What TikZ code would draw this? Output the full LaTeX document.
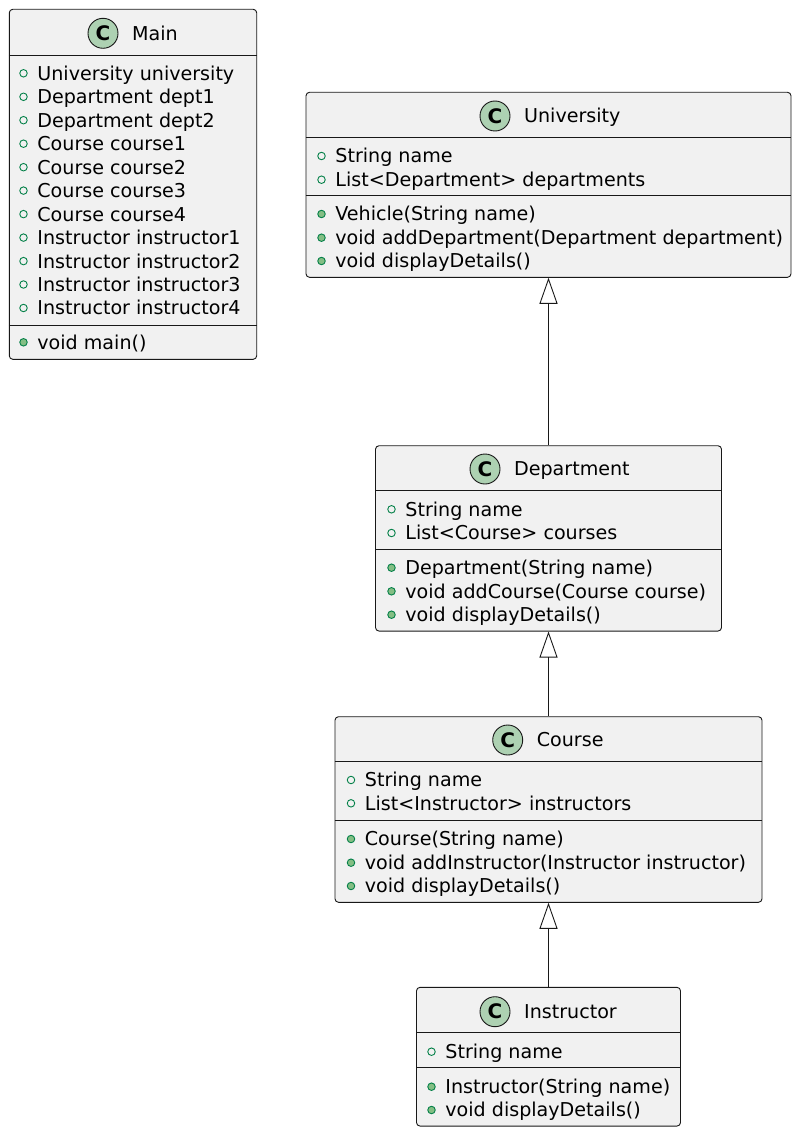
\documentclass[tikz,border=0pt]{standalone}
\usepackage{fontspec}
\setmainfont{DejaVu Sans}
\usetikzlibrary{positioning,arrows.meta}

\definecolor{boxfill}{HTML}{F1F1F1}
\definecolor{boxline}{HTML}{181818}
\definecolor{iconfill}{HTML}{ADD1B2}
\definecolor{markline}{HTML}{038048}
\definecolor{markfill}{HTML}{84BE84}

\tikzset{
  classbox/.style={draw=boxline, fill=boxfill, line width=0.9pt, rounded corners=3.5pt, inner sep=0pt},
  sepline/.style={draw=boxline, line width=0.9pt},
  classicon/.style={circle, draw=boxline, fill=iconfill, line width=0.9pt, minimum size=30pt, inner sep=0pt, font=\fontsize{20}{20}\selectfont\bfseries},
  member/.style={anchor=west, inner sep=0pt, text height=13.9pt, text depth=0pt, font=\fontsize{19.1}{22}\selectfont},
  fieldmark/.style={circle, draw=markline, line width=0.9pt, minimum size=7.5pt, inner sep=0pt},
  methodmark/.style={fieldmark, fill=markfill},
  extends/.style={draw=boxline, line width=0.9pt, -{Triangle[open, length=26pt, width=18pt]}},
}

% one row of a class: marker, then its text
\newcommand{\umlfield}[3]{\node[fieldmark] (#1m) at (#2) {}; \node[member, right=9.5pt of #1m] (#1) {#3};}
\newcommand{\umlmethod}[3]{\node[methodmark] (#1m) at (#2) {}; \node[member, right=9.5pt of #1m] (#1) {#3};}

\begin{document}
\begin{tikzpicture}[x=1pt,y=-1pt]
\useasboundingbox (0,0) rectangle (800,1134);

% Main
\node[classbox, minimum width=247.4pt, minimum height=350pt] (main) at (133,184.3) {};
\node[classicon] (mainicon) at (103,33.3) {C};
\node[member, right=13.5pt of mainicon] (mainname) {Main};
\draw[sepline] (main.west |- 0,55) -- (main.east |- 0,55);
\umlfield{mainf1}{23.5,73.3}{University university}
\umlfield{mainf2}{23.5,96.8}{Department dept1}
\umlfield{mainf3}{23.5,120.2}{Department dept2}
\umlfield{mainf4}{23.5,143.7}{Course course1}
\umlfield{mainf5}{23.5,167.2}{Course course2}
\umlfield{mainf6}{23.5,190.6}{Course course3}
\umlfield{mainf7}{23.5,214.1}{Course course4}
\umlfield{mainf8}{23.5,237.6}{Instructor instructor1}
\umlfield{mainf9}{23.5,261.1}{Instructor instructor2}
\umlfield{mainf10}{23.5,284.5}{Instructor instructor3}
\umlfield{mainf11}{23.5,308}{Instructor instructor4}
\draw[sepline] (main.west |- 0,325.7) -- (main.east |- 0,325.7);
\umlmethod{mainm1}{23.5,342.3}{void main()}

% University
\node[classbox, minimum width=485pt, minimum height=185pt] (university) at (548.5,184.8) {};
\node[classicon] (univicon) at (495,116) {C};
\node[member, right=13.5pt of univicon] (univname) {University};
\draw[sepline] (university.west |- 0,137.3) -- (university.east |- 0,137.3);
\umlfield{univf1}{321.5,156}{String name}
\umlfield{univf2}{321.5,179.7}{List<Department> departments}
\draw[sepline] (university.west |- 0,195) -- (university.east |- 0,195);
\umlmethod{univm1}{321.5,214}{Vehicle(String name)}
\umlmethod{univm2}{321.5,237.7}{void addDepartment(Department department)}
\umlmethod{univm3}{321.5,261}{void displayDetails()}

% Department
\node[classbox, minimum width=346pt, minimum height=185.3pt] (department) at (548.5,538.4) {};
\node[classicon] (depticon) at (485,469) {C};
\node[member, right=13.5pt of depticon] (deptname) {Department};
\draw[sepline] (department.west |- 0,490.7) -- (department.east |- 0,490.7);
\umlfield{deptf1}{391.5,509.3}{String name}
\umlfield{deptf2}{391.5,533}{List<Course> courses}
\draw[sepline] (department.west |- 0,549) -- (department.east |- 0,549);
\umlmethod{deptm1}{391.5,567.7}{Department(String name)}
\umlmethod{deptm2}{391.5,591.3}{void addCourse(Course course)}
\umlmethod{deptm3}{391.5,614.7}{void displayDetails()}

% Course
\node[classbox, minimum width=427pt, minimum height=185.6pt] (course) at (548.5,809.5) {};
\node[classicon] (courseicon) at (507.7,740) {C};
\node[member, right=13.5pt of courseicon] (coursename) {Course};
\draw[sepline] (course.west |- 0,761.7) -- (course.east |- 0,761.7);
\umlfield{coursef1}{351,780}{String name}
\umlfield{coursef2}{351,803.3}{List<Instructor> instructors}
\draw[sepline] (course.west |- 0,820) -- (course.east |- 0,820);
\umlmethod{coursem1}{351,839}{Course(String name)}
\umlmethod{coursem2}{351,862.7}{void addInstructor(Instructor instructor)}
\umlmethod{coursem3}{351,886}{void displayDetails()}

% Instructor
\node[classbox, minimum width=264pt, minimum height=138.7pt] (instructor) at (548.5,1056.7) {};
\node[classicon] (instricon) at (495,1011.7) {C};
\node[member, right=13.5pt of instricon] (instrname) {Instructor};
\draw[sepline] (instructor.west |- 0,1032.7) -- (instructor.east |- 0,1032.7);
\umlfield{instrf1}{431.5,1051.7}{String name}
\draw[sepline] (instructor.west |- 0,1067.3) -- (instructor.east |- 0,1067.3);
\umlmethod{instrm1}{431.5,1086.7}{Instructor(String name)}
\umlmethod{instrm2}{431.5,1110}{void displayDetails()}

% inheritance
\draw[extends] (department.north) -- (university.south);
\draw[extends] (course.north) -- (department.south);
\draw[extends] (instructor.north) -- (course.south);
\end{tikzpicture}
\end{document}
